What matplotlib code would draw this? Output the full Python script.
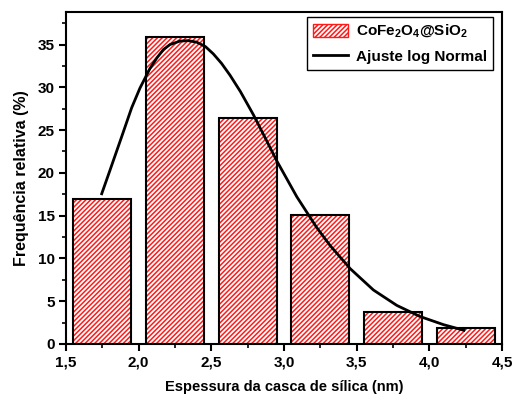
import numpy as np
import matplotlib
matplotlib.use('Agg')
import matplotlib.pyplot as plt
from matplotlib.ticker import MultipleLocator, FuncFormatter

# histogram data (percent)
bin_centers = [1.75, 2.25, 2.75, 3.25, 3.75, 4.25]
freq = [16.98, 35.85, 26.42, 15.09, 3.77, 1.89]
bar_width = 0.4

# log-normal fit, points
fit_x = [1.743, 1.803, 1.883, 1.952, 2.009, 2.078, 2.124, 2.17, 2.216, 2.285,
         2.34, 2.40, 2.46, 2.514, 2.57, 2.629, 2.70, 2.789, 2.87, 2.95,
         3.088, 3.225, 3.317, 3.455, 3.615, 3.776, 3.936, 4.097, 4.246]
fit_y = [17.4, 20.3, 24.2, 27.6, 29.9, 32.2, 33.4, 34.4, 35.0, 35.4,
         35.45, 35.27, 34.75, 33.9, 32.8, 31.4, 29.5, 26.8, 24.1, 21.4,
         17.2, 13.6, 11.5, 8.8, 6.3, 4.5, 3.2, 2.25, 1.55]

plt.rcParams['font.family'] = ['Liberation Sans', 'DejaVu Sans']
plt.rcParams['font.weight'] = 'bold'
plt.rcParams['hatch.linewidth'] = 1.1
plt.rcParams['mathtext.fontset'] = 'custom'
plt.rcParams['mathtext.rm'] = 'Liberation Sans:bold'
plt.rcParams['mathtext.bf'] = 'Liberation Sans:bold'

hatch_red = '#ff1a1a'
dense = '///////'

fig = plt.figure(figsize=(5.15, 4.07), dpi=100)
ax = fig.add_axes([0.128, 0.155, 0.847, 0.8155])

# hatched fill (red) then black outline on top
ax.bar(bin_centers, freq, width=bar_width, color='white', edgecolor=hatch_red,
       hatch=dense, linewidth=0, zorder=2)
ax.bar(bin_centers, freq, width=bar_width, fill=False, edgecolor='black',
       linewidth=1.5, zorder=3)
ax.plot(fit_x, fit_y, color='black', lw=2, zorder=4, solid_capstyle='butt',
        solid_joinstyle='round')

# legend handles
h_bar = plt.Rectangle((0, 0), 1, 1, facecolor='white', edgecolor=hatch_red, hatch=dense)
h_line, = ax.plot([], [], color='black', lw=2)
leg = ax.legend([h_bar, h_line], [r'CoFe$_\mathrm{2}$O$_\mathrm{4}$@SiO$_\mathrm{2}$', 'Ajuste log Normal'],
                loc='upper right', bbox_to_anchor=(0.979, 0.985), borderaxespad=0,
                fancybox=False, edgecolor='black', fontsize=11,
                handlelength=2.3, handleheight=1.0, labelspacing=0.55,
                handletextpad=0.5, framealpha=1)
leg.get_frame().set_linewidth(1.0)

ax.set_xlim(1.5, 4.5)
ax.set_ylim(0, 38.8)
ax.xaxis.set_major_locator(MultipleLocator(0.5))
ax.xaxis.set_minor_locator(MultipleLocator(0.25))
ax.yaxis.set_major_locator(MultipleLocator(5))
ax.yaxis.set_minor_locator(MultipleLocator(2.5))
ax.xaxis.set_major_formatter(FuncFormatter(lambda v, p: ('%.1f' % v).replace('.', ',')))
ax.tick_params(which='major', direction='out', length=5, width=1.5, labelsize=11, pad=3)
ax.tick_params(which='minor', direction='out', length=3, width=1.2)
for lbl in ax.get_xticklabels() + ax.get_yticklabels():
    lbl.set_fontweight('bold')
for s in ax.spines.values():
    s.set_linewidth(1.5)

ax.set_xlabel('Espessura da casca de sílica (nm)', fontsize=10.5, fontweight='bold', labelpad=8)
ax.set_ylabel('Frequência relativa (%)', fontsize=11.5, fontweight='bold', labelpad=6)

plt.savefig('out.png', dpi=100)
